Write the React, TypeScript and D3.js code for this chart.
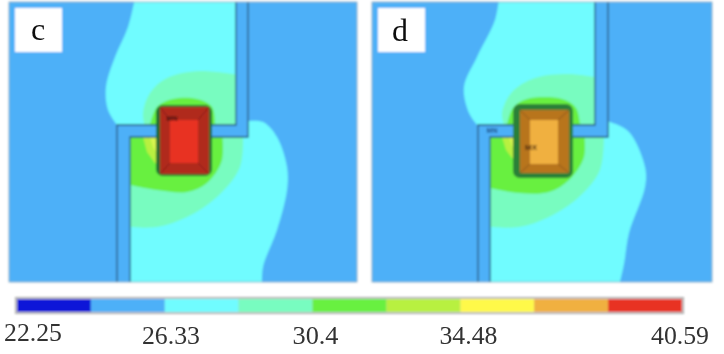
import React from "react";
import * as d3 from "d3";

type P = [number, number];
const WIDTH = 724, HEIGHT = 354;

const legendColors = ["#0a14d8", "#4db0f8", "#70fcff", "#78fcc0", "#68f040", "#b8f040", "#fff94a", "#f0b040", "#e83020"];
const legendValues = [22.25, 26.33, 30.4, 34.48, 40.59];
const legendLabels = ["22.25", "26.33", "30.4", "34.48", "40.59"];

// Contours, in panel units
const cCyanLeft: P[] = [[126, -4], [119, 25], [106, 55], [97, 85], [99, 108], [108, 123]];
const cCyanRight: P[] = [[253, 284], [254, 265], [268, 228], [278, 188], [278, 165], [268, 135], [254, 120], [239, 119]];
const cCyanCorners: P[][] = [[[114, 130], [114, 284]], [[239, -4]]];
const cMintTop: P[] = [[230, 73], [191, 69], [158, 76], [141, 91], [134, 111], [136, 125]];
const cMintBottom: P[] = [[121, 225], [148, 225], [178, 215], [208, 195], [231, 165], [234, 130]];
const cMintCorners: P[][] = [[[115, 129]], [[232, 120]]];
const cGreenTop: P[] = [[206, 123], [203, 105], [188, 97], [164, 97], [148, 105], [141, 123]];
const cGreenBottom: P[] = [[121, 183], [148, 188], [178, 190], [198, 181], [213, 158], [213, 130]];
const cGreenCorners: P[][] = [[[115, 129]], []];
const cLime: P[] = [[134, 135], [138, 150], [146, 161], [154, 163], [154, 135]];
const cYellow: P[] = [[141, 135], [144, 145], [150, 155], [154, 155], [154, 135]];
const cChannel: P[] = [[227, -2], [239, -2], [239, 135], [121, 135], [121, 282], [108, 282], [108, 123], [227, 123]];
const cRim = [147, 103, 203, 174];
const cOuter = [151, 105, 200, 172];
const cInner = [161, 118, 189, 161];

const dCyanLeft: P[] = [[127, -4], [123, 18], [105, 55], [92, 85], [97, 111], [106, 124]];
const dCyanRight: P[] = [[247, 284], [252, 262], [257, 231], [273, 185], [273, 165], [257, 130], [238, 120], [233, 119]];
const dCyanCorners: P[][] = [[[112, 130], [112, 284]], [[233, -4]]];
const dMintTop: P[] = [[228, 76], [197, 72], [163, 76], [140, 90], [130, 111], [132, 123]];
const dMintBottom: P[] = [[118, 225], [147, 225], [177, 215], [207, 195], [228, 168], [232, 130]];
const dMintCorners: P[][] = [[[112, 129]], [[230, 120]]];
const dGreenTop: P[] = [[208, 123], [204, 106], [190, 97], [155, 97], [141, 106], [135, 123]];
const dGreenBottom: P[] = [[118, 186], [147, 191], [177, 190], [197, 178], [212, 155], [212, 130]];
const dGreenCorners: P[][] = [[[112, 129]], []];
const dLime: P[] = [[130, 135], [134, 148], [140, 156], [146, 158], [146, 135]];
const dYellow: P[] = [[137, 135], [140, 144], [145, 151], [146, 151], [146, 135]];
const dChannel: P[] = [[223, -2], [236, -2], [236, 135], [118, 135], [118, 282], [106, 282], [106, 123], [223, 123]];
const dRim = [141, 102, 201, 176];
const dOuter = [148, 108, 197, 171];
const dInner = [158, 118, 186, 162];

const Panel = ({ x0, w, cyanL, cyanR, cyanC, mintT, mintB, mintC, greenT, greenB, greenC, lime, yellow, channel, rim, outer, inner, outerFill, innerFill, rimFill, bevel, id }: any) => {
  const sx = d3.scaleLinear().domain([0, w]).range([x0, x0 + w]);
  const sy = d3.scaleLinear().domain([0, 280]).range([2, 282]);
  const smooth = d3.line<P>().x(p => sx(p[0])).y(p => sy(p[1])).curve(d3.curveCatmullRom.alpha(0.5));
  const straight = d3.line<P>().x(p => sx(p[0])).y(p => sy(p[1]));
  const seg = (pts: P[]) => pts.map(p => `L${sx(p[0])},${sy(p[1])}`).join("");
  const join = (a: P[], b: P[], c: P[][]) => smooth(a)! + seg(c[0]) + smooth(b)!.replace(/^M/, "L") + seg(c[1]) + "Z";
  const R = (b: number[], fill: string, rx = 0) => (
    <rect x={sx(b[0])} y={sy(b[1])} width={sx(b[2]) - sx(b[0])} height={sy(b[3]) - sy(b[1])} fill={fill} rx={rx} />
  );
  return (
    <g>
      <clipPath id={id}><rect x={sx(0)} y={sy(0)} width={sx(w) - sx(0)} height={sy(280) - sy(0)} /></clipPath>
      <g clipPath={`url(#${id})`}>
        <rect x={sx(0)} y={sy(0)} width={sx(w) - sx(0)} height={sy(280) - sy(0)} fill={legendColors[1]} />
        <path d={join(cyanL, cyanR, cyanC)} fill={legendColors[2]} />
        <path d={join(mintT, mintB, mintC)} fill={legendColors[3]} />
        <path d={join(greenT, greenB, greenC)} fill={legendColors[4]} />
        <path d={straight(lime)! + "Z"} fill={legendColors[5]} />
        <path d={straight(yellow)! + "Z"} fill="#d8f450" />
        <path d={straight(channel)! + "Z"} fill={legendColors[1]} stroke="#24547c" strokeWidth={1.3} />
        {R(rim, rimFill, 7)}
        {R(outer, outerFill)}
        {bevel.map((k: number, i: number) => (
          <line key={i} x1={sx(outer[k & 1 ? 2 : 0])} y1={sy(outer[k & 2 ? 3 : 1])} x2={sx(inner[k & 1 ? 2 : 0])} y2={sy(inner[k & 2 ? 3 : 1])} stroke="#00000040" strokeWidth={1} />
        ))}
        {R(inner, innerFill)}
      </g>
      <rect x={sx(0)} y={sy(0)} width={sx(w) - sx(0)} height={sy(280) - sy(0)} fill="none" stroke="#8fa8b8" strokeWidth={0.8} />
      <rect x={x0 + 6} y={8} width={47} height={44} fill="#fff" />
    </g>
  );
};

export default function App() {
  const band = d3.scaleBand<number>().domain(d3.range(legendColors.length)).range([17, 682]);
  const tick = d3.scaleLinear().domain([22.25, 40.59]).range([33, 680]);
  const nudge = [0, -6, -5, 4, 0];
  const serif = "'Liberation Serif', serif";
  return (
    <svg width={WIDTH} height={HEIGHT} style={{ position: "absolute", left: 0, top: 0, background: "#fff" }}>
      <defs>
        <filter id="soft" x="-5%" y="-5%" width="110%" height="110%"><feGaussianBlur stdDeviation={0.9} /></filter>
        <filter id="softText" x="-5%" y="-20%" width="110%" height="140%"><feGaussianBlur stdDeviation={0.4} /></filter>
      </defs>
      <g filter="url(#soft)">
        <Panel id="pc" x0={9} w={348} cyanL={cCyanLeft} cyanR={cCyanRight} cyanC={cCyanCorners} mintT={cMintTop} mintB={cMintBottom} mintC={cMintCorners}
          greenT={cGreenTop} greenB={cGreenBottom} greenC={cGreenCorners} lime={cLime} yellow={cYellow} channel={cChannel}
          rim={cRim} outer={cOuter} inner={cInner} rimFill="#1d6a30" outerFill="#b02a1c" innerFill={legendColors[8]} bevel={[0, 1, 2, 3]} />
        <Panel id="pd" x0={372} w={340} cyanL={dCyanLeft} cyanR={dCyanRight} cyanC={dCyanCorners} mintT={dMintTop} mintB={dMintBottom} mintC={dMintCorners}
          greenT={dGreenTop} greenB={dGreenBottom} greenC={dGreenCorners} lime={dLime} yellow={dYellow} channel={dChannel}
          rim={dRim} outer={dOuter} inner={dInner} rimFill="#2c8038" outerFill="#b8741f" innerFill={legendColors[7]} bevel={[0, 1, 2, 3]} />
        <text x={172} y={121} fontSize={7} fontWeight="bold" textAnchor="middle" fontFamily="'Liberation Sans', sans-serif" fill="#301010">MN</text>
        <text x={492} y={133} fontSize={7} fontWeight="bold" textAnchor="middle" fontFamily="'Liberation Sans', sans-serif" fill="#1c4a80">MN</text>
        <text x={531} y={150} fontSize={8} fontWeight="bold" textAnchor="middle" fontFamily="'Liberation Sans', sans-serif" fill="#4a2a10">MX</text>
        <rect x={15.5} y={297.5} width={668} height={16} fill="#c8c8c8" stroke="#a8a8a8" />
        {legendColors.map((c, i) => (
          <rect key={c} x={band(i)} y={299} width={band.bandwidth()} height={13} fill={c} />
        ))}
      </g>
      <g filter="url(#softText)">
        <text x={38} y={40} fontSize={32} textAnchor="middle" fontFamily={serif} fill="#111">c</text>
        <text x={400} y={41} fontSize={32} textAnchor="middle" fontFamily={serif} fill="#111">d</text>
        {legendLabels.map((t, i) => (
          <text key={t} x={tick(legendValues[i]) + nudge[i]} y={i === 0 ? 341 : 344} fontSize={25} textAnchor="middle" fontFamily={serif} fill="#333"
            textLength={t.length === 5 ? 58 : 46} lengthAdjust="spacingAndGlyphs">{t}</text>
        ))}
      </g>
    </svg>
  );
}
